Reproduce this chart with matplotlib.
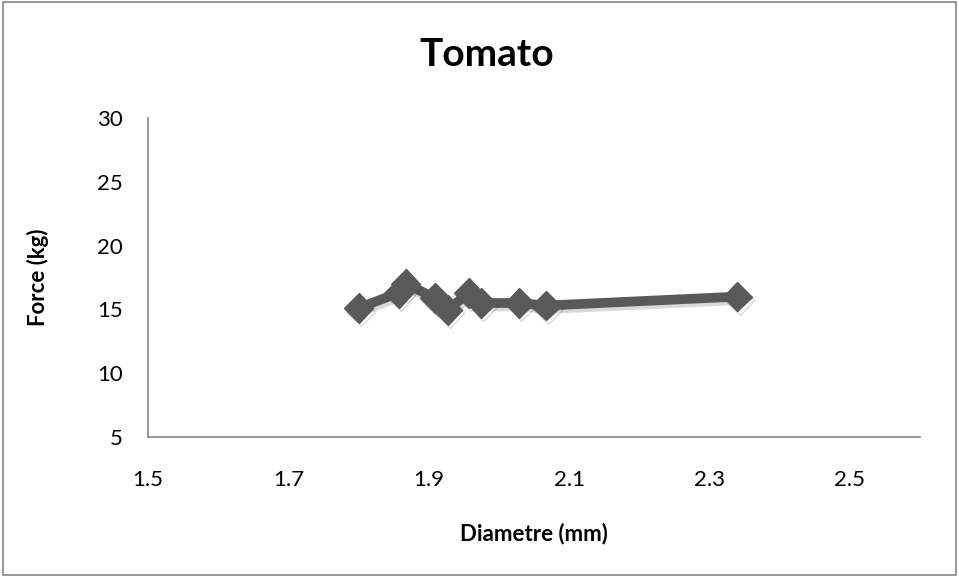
import matplotlib
matplotlib.use('Agg')
import matplotlib.pyplot as plt
import matplotlib.patheffects as pe

diametre = [1.80, 1.857, 1.867, 1.909, 1.927, 1.957, 1.975, 2.029, 2.067, 2.34]
force = [15.1, 16.3, 17.0, 15.9, 14.95, 16.3, 15.5, 15.5, 15.3, 16.0]
x_ticks = [1.5, 1.7, 1.9, 2.1, 2.3, 2.5]
y_ticks = [5, 10, 15, 20, 25, 30]

plt.rcParams['font.family'] = ['Lato', 'DejaVu Sans']

fig = plt.figure(figsize=(9.59, 5.77), dpi=100)
ax = fig.add_axes([0.1543, 0.2426, 0.805, 0.553])

ax.plot(diametre, force, color='#595959', lw=7, marker='D', ms=15,
        path_effects=[pe.SimpleLineShadow(offset=(1.5, -2.5), alpha=0.15, shadow_color='black'), pe.Normal()])

ax.set_xlim(1.5, 2.6)
ax.set_ylim(5, 30)
ax.set_xticks(x_ticks)
ax.set_yticks(y_ticks)
ax.set_xticklabels([str(t) for t in x_ticks])
ax.tick_params(length=0, labelsize=16, colors='black')
ax.tick_params(axis='x', pad=24)
ax.tick_params(axis='y', pad=18)
for s in ['top', 'right']:
    ax.spines[s].set_visible(False)
for s in ['left', 'bottom']:
    ax.spines[s].set_color('#868686')
    ax.spines[s].set_linewidth(1.2)

fig.text(0.557, 0.076, 'Diametre (mm)', ha='center', va='center', fontsize=16, fontweight='bold')
fig.text(0.04, 0.52, 'Force (kg)', ha='center', va='center', rotation=90, fontsize=16, fontweight='bold')
fig.text(0.507, 0.906, 'Tomato', ha='center', va='center', fontsize=28, fontweight='bold')

fig.patches.append(plt.Rectangle((0.003, 0.003), 0.994, 0.994, transform=fig.transFigure,
                                 fill=False, edgecolor='#868686', lw=1.2))

fig.savefig('out.png', dpi=100)
